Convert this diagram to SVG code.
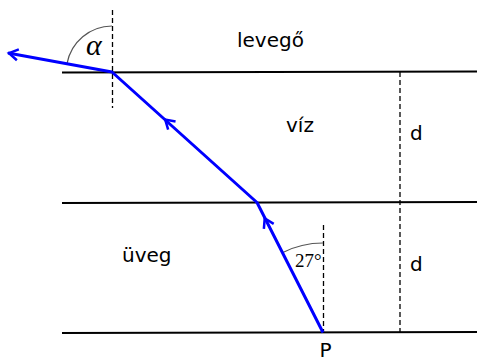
<svg xmlns="http://www.w3.org/2000/svg" xmlns:xlink="http://www.w3.org/1999/xlink" width="477" height="360" viewBox="0 0 477 360">
<style>
.bd{stroke:#000;stroke-width:2;fill:none}
.dash{stroke:#000;stroke-width:1.3;stroke-dasharray:5,3;fill:none}
.arc{stroke:#555;stroke-width:1.2;fill:none}
.ray{stroke:#0000ff;stroke-width:3;fill:none;stroke-linejoin:round}
.lbl{font-family:"DejaVu Sans",sans-serif;font-size:20px;fill:#000}
.math{font-family:"Liberation Serif","DejaVu Serif",serif;fill:#000}
</style>
<defs>
<path id="chev" d="M-9,-5.5 L0,0 L-9,5.5" stroke="#0000ff" stroke-width="2.5" fill="none" stroke-linejoin="miter"/>
</defs>
<g id="boundaries">
<line class="bd" x1="62" y1="72.5" x2="477" y2="71.5"/>
<line class="bd" x1="62" y1="203" x2="477" y2="202"/>
<line class="bd" x1="62" y1="333" x2="477" y2="332"/>
</g>
<g id="normals">
<line class="dash" x1="112.5" y1="10" x2="112.5" y2="108"/>
<line class="dash" x1="323.5" y1="225" x2="323.5" y2="333"/>
<line class="dash" x1="400" y1="72" x2="400" y2="332"/>
</g>
<g id="angles">
<path class="arc" d="M112,26 A46,46 0 0 0 67,63.7"/>
<path class="arc" d="M323,243 A90,90 0 0 0 282.3,252.7"/>
</g>
<g id="connectors">
<polyline class="ray" points="323,332.5 257,202.5 112,72 8,53"/>
<use xlink:href="#chev" transform="translate(264.7,218.3) rotate(-117)"/>
<use xlink:href="#chev" transform="translate(165.2,119.5) rotate(-137.7)"/>
<use xlink:href="#chev" transform="translate(9,53.2) rotate(-169.7)"/>
</g>
<g id="labels">
<text class="lbl" x="237" y="47">levegő</text>
<text class="lbl" x="286" y="131.5">víz</text>
<text class="lbl" x="122" y="261.5">üveg</text>
<text class="lbl" x="410" y="140">d</text>
<text class="lbl" x="410" y="271">d</text>
<text class="lbl" x="319.5" y="356.5">P</text>
<text class="math" x="86" y="55" font-size="30" font-style="italic">α</text>
<text class="math" x="295" y="266.5" font-size="19">27°</text>
</g>
</svg>
